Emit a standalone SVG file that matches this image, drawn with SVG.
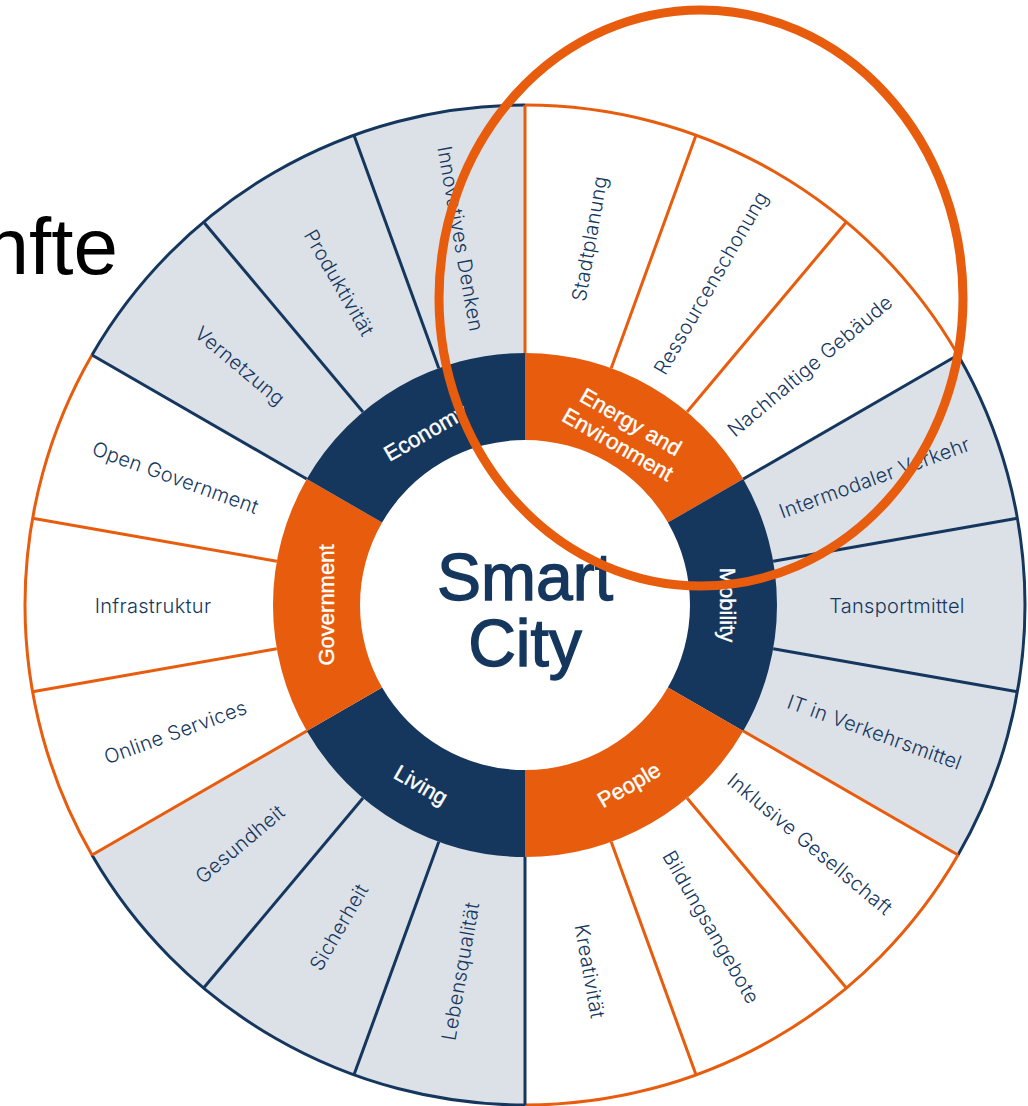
<svg xmlns="http://www.w3.org/2000/svg" width="1028" height="1106" viewBox="0 0 1028 1106">
<style>
.bg{fill:#ffffff}
.fw{fill:#ffffff}
.fg{fill:#dce1e8}
.ro{fill:#e85c0d}
.rn{fill:#15375e}
.lo{stroke:#e85c0d;stroke-width:3;fill:none}
.ln{stroke:#15375e;stroke-width:3;fill:none}
.sub{font-family:Inter,"Noto Sans",sans-serif;font-weight:300;font-size:20px;letter-spacing:0.3px;fill:#15375e;text-anchor:middle;dominant-baseline:central}
.cat{font-family:"Liberation Sans",Arial,sans-serif;font-size:22px;fill:#ffffff;stroke:#ffffff;stroke-width:0.4;text-anchor:middle;dominant-baseline:central}
.title{font-family:"Liberation Sans",Arial,sans-serif;font-size:66px;fill:#15375e;stroke:#15375e;stroke-width:1.4;text-anchor:middle}
.big{font-family:"Liberation Sans",Arial,sans-serif;font-size:80px;fill:#000000;text-anchor:end}
.ov{fill:none;stroke:#e85c0d;stroke-width:9}
</style>
<rect class="bg" x="0" y="0" width="1028" height="1106"/>
<g id="heading">
<text class="big" x="118" y="274">nfte</text>
</g>
<g id="sector-fills">
<path class="fw" d="M525 605 L525 105 A500 500 0 0 1 958.01 355 Z"/>
<path class="fg" d="M525 605 L958.01 355 A500 500 0 0 1 958.01 855 Z"/>
<path class="fw" d="M525 605 L958.01 855 A500 500 0 0 1 525 1105 Z"/>
<path class="fg" d="M525 605 L525 1105 A500 500 0 0 1 91.99 855 Z"/>
<path class="fw" d="M525 605 L91.99 855 A500 500 0 0 1 91.99 355 Z"/>
<path class="fg" d="M525 605 L91.99 355 A500 500 0 0 1 525 105 Z"/>
</g>
<g id="connectors">
<path class="lo" d="M525 105 A500 500 0 0 1 958.01 355"/>
<path class="lo" d="M958.01 855 A500 500 0 0 1 525 1105"/>
<path class="lo" d="M91.99 855 A500 500 0 0 1 91.99 355"/>
<path class="ln" d="M958.01 355 A500 500 0 0 1 958.01 855"/>
<path class="ln" d="M525 1105 A500 500 0 0 1 91.99 855"/>
<path class="ln" d="M91.99 355 A500 500 0 0 1 525 105"/>
<line class="lo" x1="525" y1="353" x2="525" y2="105"/>
<line class="lo" x1="611.19" y1="368.2" x2="696.01" y2="135.16"/>
<line class="lo" x1="686.98" y1="411.96" x2="846.4" y2="221.98"/>
<line class="ln" x1="743.24" y1="479" x2="958.01" y2="355"/>
<line class="ln" x1="773.17" y1="561.24" x2="1017.41" y2="518.18"/>
<line class="ln" x1="773.17" y1="648.76" x2="1017.41" y2="691.82"/>
<line class="lo" x1="743.24" y1="731" x2="958.01" y2="855"/>
<line class="lo" x1="686.98" y1="798.04" x2="846.4" y2="988.02"/>
<line class="lo" x1="611.19" y1="841.8" x2="696.01" y2="1074.84"/>
<line class="ln" x1="525" y1="857" x2="525" y2="1105"/>
<line class="ln" x1="438.81" y1="841.8" x2="353.99" y2="1074.84"/>
<line class="ln" x1="363.02" y1="798.04" x2="203.6" y2="988.02"/>
<line class="lo" x1="306.76" y1="731" x2="91.99" y2="855"/>
<line class="lo" x1="276.83" y1="648.76" x2="32.6" y2="691.82"/>
<line class="lo" x1="276.83" y1="561.24" x2="32.6" y2="518.18"/>
<line class="ln" x1="306.76" y1="479" x2="91.99" y2="355"/>
<line class="ln" x1="363.02" y1="411.96" x2="203.6" y2="221.98"/>
<line class="ln" x1="438.81" y1="368.2" x2="353.99" y2="135.16"/>
</g>
<g id="center">
<circle cx="525" cy="605" r="166" fill="#ffffff"/>
<text class="title" x="525" y="600">Smart</text>
<text class="title" x="525" y="666">City</text>
</g>
<g id="energy">
<path class="ro" d="M525 353 A252 252 0 0 1 743.24 479 L667.89 522.5 A165 165 0 0 0 525 440 Z"/>
<text class="cat" transform="translate(624.5,432.7) rotate(30)"><tspan x="0" y="-13">Energy and</tspan><tspan x="0" y="13">Environment</tspan></text>
<text class="sub" transform="translate(589.6,238.65) rotate(-80)">Stadtplanung</text>
<text class="sub" transform="translate(711,282.84) rotate(-60)">Ressourcenschonung</text>
<text class="sub" transform="translate(809.97,365.88) rotate(-40)">Nachhaltige Gebäude</text>
</g>
<g id="mobility">
<path class="rn" d="M743.24 479 A252 252 0 0 1 743.24 731 L667.89 687.5 A165 165 0 0 0 667.89 522.5 Z"/>
<text class="cat" transform="translate(727,605) rotate(90)">Mobility</text>
<text class="sub" transform="translate(874.56,477.77) rotate(-20)">Intermodaler Verkehr</text>
<text class="sub" transform="translate(897,606)">Tansportmittel</text>
<text class="sub" transform="translate(874.56,732.23) rotate(20)">IT in Verkehrsmittel</text>
</g>
<g id="people">
<path class="ro" d="M743.24 731 A252 252 0 0 1 525 857 L525 770 A165 165 0 0 0 667.89 687.5 Z"/>
<text class="cat" transform="translate(629,785) rotate(-30)">People</text>
<text class="sub" transform="translate(809.97,844.12) rotate(40)">Inklusive Gesellschaft</text>
<text class="sub" transform="translate(711,927.16) rotate(60)">Bildungsangebote</text>
<text class="sub" transform="translate(589.6,971.35) rotate(80)">Kreativität</text>
</g>
<g id="living">
<path class="rn" d="M525 857 A252 252 0 0 1 306.76 731 L382.11 687.5 A165 165 0 0 0 525 770 Z"/>
<text class="cat" transform="translate(421,785) rotate(30)">Living</text>
<text class="sub" transform="translate(460.4,971.35) rotate(-80)">Lebensqualität</text>
<text class="sub" transform="translate(339,927.16) rotate(-60)">Sicherheit</text>
<text class="sub" transform="translate(240.03,844.12) rotate(-40)">Gesundheit</text>
</g>
<g id="government">
<path class="ro" d="M306.76 731 A252 252 0 0 1 306.76 479 L382.11 522.5 A165 165 0 0 0 382.11 687.5 Z"/>
<text class="cat" transform="translate(326,605) rotate(-90)">Government</text>
<text class="sub" transform="translate(175.44,732.23) rotate(-20)">Online Services</text>
<text class="sub" transform="translate(153,606)">Infrastruktur</text>
<text class="sub" transform="translate(175.44,477.77) rotate(20)">Open Government</text>
</g>
<g id="economy">
<path class="rn" d="M306.76 479 A252 252 0 0 1 525 353 L525 440 A165 165 0 0 0 382.11 522.5 Z"/>
<text class="cat" transform="translate(425.5,432.7) rotate(-30)">Economy</text>
<text class="sub" transform="translate(240.03,365.88) rotate(40)">Vernetzung</text>
<text class="sub" transform="translate(339,282.84) rotate(60)">Produktivität</text>
<text class="sub" transform="translate(460.4,238.65) rotate(80)">Innovatives Denken</text>
</g>
<g id="highlight">
<ellipse class="ov" cx="701" cy="298" rx="262" ry="288"/>
</g>
</svg>
